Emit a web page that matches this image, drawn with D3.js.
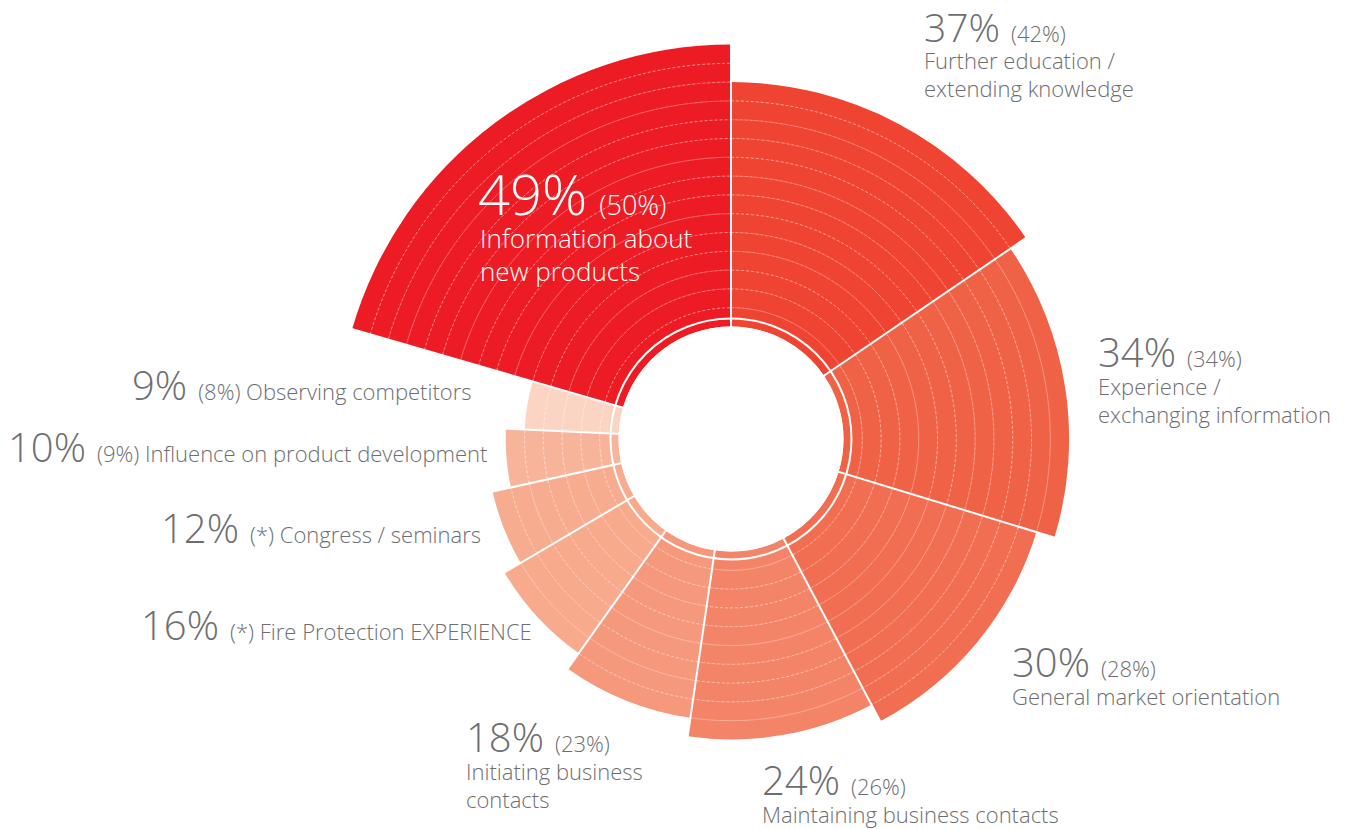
<!DOCTYPE html>
<html>
<head>
<meta charset="utf-8">
<script src="https://cdn.jsdelivr.net/npm/d3@7"></script>
<style>
  html, body { margin: 0; padding: 0; background: #fff; }
  svg { display: block; }
  text { font-family: "Open Sans", "Noto Sans", sans-serif; font-weight: 300; fill: #6d6e71; }
</style>
</head>
<body>
<svg id="chart" width="1348" height="829"></svg>
<script>
// Reasons for visiting, share of respondents (clockwise from 12 o'clock)
const categories = [
  "Further education / extending knowledge",
  "Experience / exchanging information",
  "General market orientation",
  "Maintaining business contacts",
  "Initiating business contacts",
  "Fire Protection EXPERIENCE",
  "Congress / seminars",
  "Influence on product development",
  "Observing competitors",
  "Information about new products"
];
const values = [37, 34, 30, 24, 18, 16, 12, 10, 9, 49];
// previous survey, null where the item was not asked (*)
const previousValues = [42, 34, 28, 26, 23, null, null, 9, 8, 50];
// label text split into lines
const labelLines = [
  ["Further education /", "extending knowledge"],
  ["Experience /", "exchanging information"],
  ["General market orientation"],
  ["Maintaining business contacts"],
  ["Initiating business", "contacts"],
  ["Fire Protection EXPERIENCE"],
  ["Congress / seminars"],
  ["Influence on product development"],
  ["Observing competitors"],
  ["Information about", "new products"]
];
const highlighted = "Information about new products";

// ---- layout ----
const cx = 731, cy = 439;
const holeR = 112.5, ringStep = 18.8, minRings = 5;
const colors = ["#ef4431", "#f06246", "#f16e52", "#f38468", "#f5987b",
                "#f7aa8c", "#f7ab8f", "#f8b49b", "#fbd4c4", "#ed1c24"];

// label anchors: [x, baseline, inline?]
const labelPos = [
  [924, 42, false], [1098, 367, false], [1012, 677, false], [762, 795, false],
  [466, 752, false], [141, 640, true], [161, 543, true], [8, 462, true],
  [132, 400, true], [478, 215, false]
];

const svg = d3.select("#chart");
const g = svg.append("g").attr("transform", `translate(${cx},${cy})`);

const data = categories.map((c, i) => ({
  name: c, value: values[i], prev: previousValues[i], lines: labelLines[i], color: colors[i], i
}));

// ring count by rank; the leading item gets one extra ring
const ranked = data.slice().sort((a, b) => b.value - a.value);
ranked.forEach((d, r) => {
  d.rings = minRings + (data.length - 1 - r) + (d.name === highlighted ? 1 : 0);
});
const maxRings = d3.max(data, d => d.rings);

const rScale = d3.scaleLinear().domain([0, maxRings]).range([holeR, holeR + maxRings * ringStep]);

const pie = d3.pie().sort(null).value(d => d.value).startAngle(0).endAngle(2 * Math.PI);
const arcs = pie(data);

const arc = d3.arc();

// sectors
g.selectAll("path.sector")
  .data(arcs)
  .join("path")
  .attr("class", "sector")
  .attr("d", a => arc({ innerRadius: rScale(0), outerRadius: rScale(a.data.rings),
                       startAngle: a.startAngle, endAngle: a.endAngle }))
  .attr("fill", a => a.data.color);

// dashed ring lines inside each sector
arcs.forEach(a => {
  const ks = d3.range(1, a.data.rings);
  g.selectAll(null)
    .data(ks)
    .join("path")
    .attr("d", k => {
      const r = rScale(k);
      return d3.arc()({ innerRadius: r, outerRadius: r, startAngle: a.startAngle, endAngle: a.endAngle });
    })
    .attr("fill", "none")
    .attr("stroke", "rgba(255,255,255,0.4)")
    .attr("stroke-width", 0.7)
    .attr("stroke-dasharray", "3 2");
});

// radial separators
g.selectAll("line.sep")
  .data(arcs)
  .join("line")
  .attr("class", "sep")
  .attr("x1", 0).attr("y1", 0)
  .attr("x2", a => Math.sin(a.startAngle) * (rScale(maxRings) + 5))
  .attr("y2", a => -Math.cos(a.startAngle) * (rScale(maxRings) + 5))
  .attr("stroke", "#fff")
  .attr("stroke-width", 2);

// white hole and inner separation circle
g.append("circle").attr("r", holeR).attr("fill", "#fff");
g.append("circle").attr("r", holeR + 8).attr("fill", "none").attr("stroke", "#fff").attr("stroke-width", 2);

// ---- labels ----
data.forEach((d, i) => {
  const [x, y, inline] = labelPos[i];
  const hi = d.name === highlighted;
  const bigSize = hi ? 56 : (i === 0 ? 39 : 40);
  const prevSize = hi ? 27 : 22;
  const smallSize = hi ? 26 : 22;
  const lineH = hi ? 33 : 28;
  const fill = hi ? "#fff" : "#6d6e71";
  const t = svg.append("text").attr("x", x).attr("y", y).style("fill", fill);
  t.append("tspan").style("font-size", bigSize + "px").text(d.value + "%");
  t.append("tspan").attr("dx", hi ? 12 : 11).style("font-size", prevSize + "px")
    .text(d.prev == null ? "(*)" : "(" + d.prev + "%)");
  if (inline) {
    t.append("tspan").style("font-size", smallSize + "px").text(" " + d.lines[0]);
  } else {
    d.lines.forEach((ln, j) => {
      t.append("tspan").attr("x", x + (hi ? 2 : 0))
        .attr("dy", j === 0 && i === 0 ? lineH - 1 : lineH)
        .style("font-size", smallSize + "px").text(ln);
    });
  }
});
</script>
</body>
</html>
